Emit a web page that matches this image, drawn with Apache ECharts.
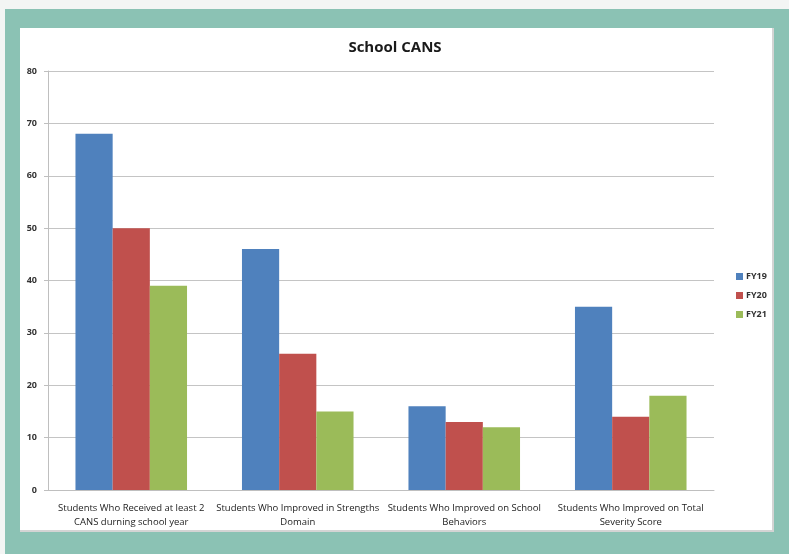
<!DOCTYPE html>
<html><head><meta charset="utf-8">
<script src="https://cdn.jsdelivr.net/npm/echarts@6/dist/echarts.min.js"></script>
<style>
html,body{margin:0;padding:0;width:789px;height:554px;background:#f3f5f4;overflow:hidden;}
#teal{position:absolute;left:5px;top:9px;width:784px;height:545px;background:#8bc2b4;}
#panel{position:absolute;left:20px;top:28px;width:752px;height:502px;background:#fff;border-right:2px solid #d4d4d4;border-bottom:2px solid #d4d4d4;}
#chart{position:absolute;left:0;top:0;width:789px;height:554px;}
</style></head>
<body>
<div id="teal"></div><div id="panel"></div>
<div id="chart"></div>
<script>
const categories = [
  "Students Who Received at least 2\nCANS durning school year",
  "Students Who Improved in Strengths\nDomain",
  "Students Who Improved on School\nBehaviors",
  "Students Who Improved on Total\nSeverity Score"
];
const seriesNames = ["FY19", "FY20", "FY21"];
const fy19 = [68, 46, 16, 35];
const fy20 = [50, 26, 13, 14];
const fy21 = [39, 15, 12, 18];
const yTicks = { min: 0, max: 80, interval: 10 };
const colors = ["#4f81bd", "#c0504d", "#9bbb59"];
const values = [fy19, fy20, fy21];

const chart = echarts.init(document.getElementById('chart'), null, {renderer:'canvas'});
chart.setOption({
  backgroundColor: 'transparent',
  animation: false,
  title: {
    text: 'School CANS', left: 390, top: 35, textAlign: 'center',
    textStyle: { fontFamily: 'Open Sans', fontWeight: 'bold', fontSize: 15, color: '#1a1a1a' }
  },
  legend: {
    orient: 'vertical', left: 731, top: 267, itemWidth: 7, itemHeight: 7, itemGap: 10,
    icon: 'rect',
    textStyle: { fontFamily: 'Open Sans', fontWeight: 'bold', fontSize: 9, color: '#333', padding: [0,0,0,-2] },
    data: seriesNames
  },
  grid: { left: 48, right: 75, top: 71, bottom: 64, containLabel: false },
  xAxis: {
    type: 'category', data: categories,
    axisLine: { lineStyle: { color: '#bfbfbf', width: 1 } },
    axisTick: { show: false },
    axisLabel: { interval: 0, fontFamily: 'Open Sans', fontSize: 9.5, color: '#222', lineHeight: 14, margin: 11 }
  },
  yAxis: {
    type: 'value', min: yTicks.min, max: yTicks.max, interval: yTicks.interval,
    axisLine: { show: true, lineStyle: { color: '#bfbfbf' } },
    axisTick: { show: true, length: 4, lineStyle: { color: '#bfbfbf' } },
    splitLine: { lineStyle: { color: '#c4c4c4' } },
    axisLabel: { fontFamily: 'Open Sans', fontWeight: 'bold', fontSize: 9, color: '#333', margin: 11 }
  },
  series: seriesNames.map((n, i) => ({
    name: n, type: 'bar', data: values[i], barGap: '0%', barCategoryGap: '33%',
    itemStyle: { color: colors[i] }
  }))
});
</script>
</body></html>
